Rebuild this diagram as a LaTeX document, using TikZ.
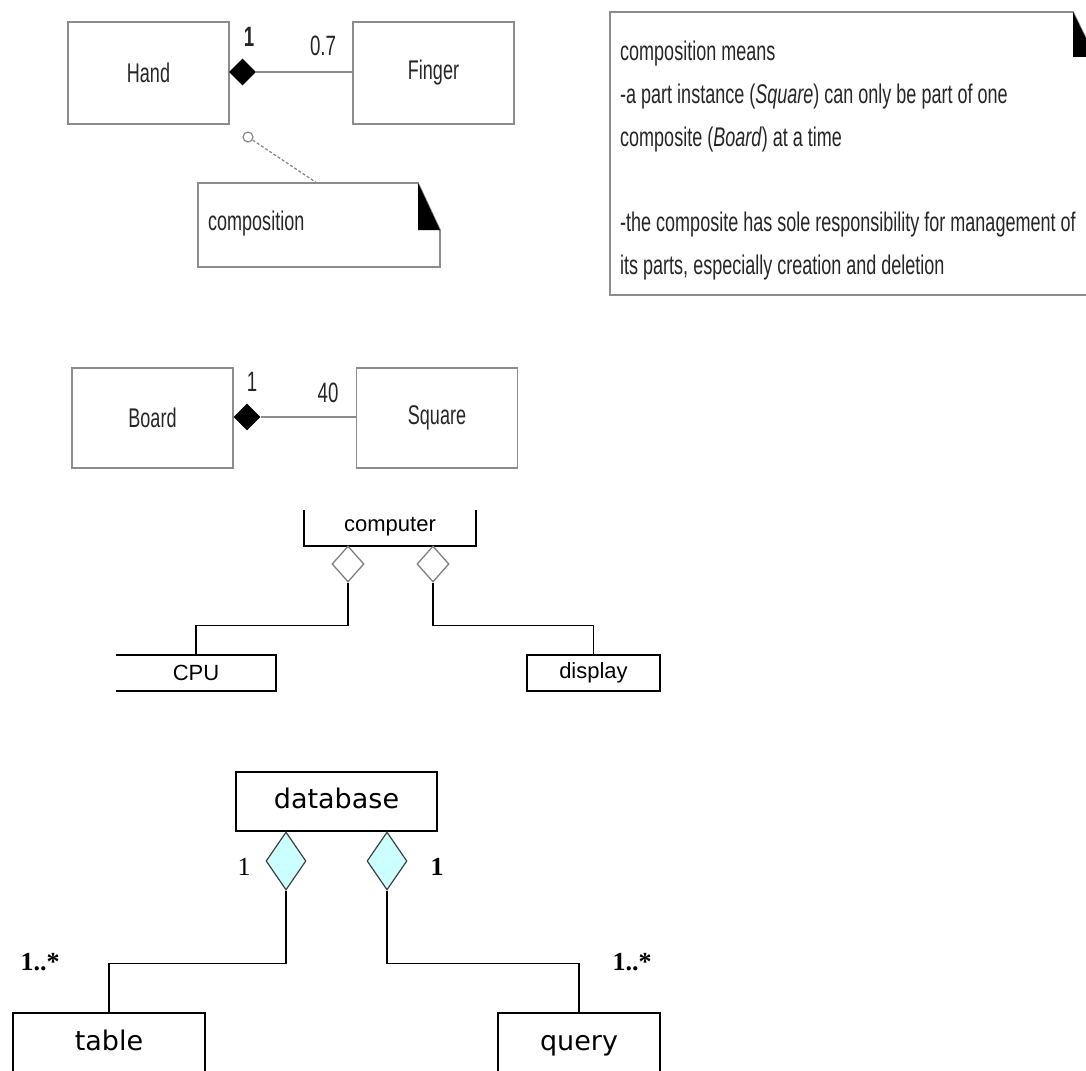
\documentclass[tikz,border=0pt]{standalone}
\usepackage{fontspec}
\setmainfont{Liberation Sans}
\newfontfamily\nar[FakeStretch=0.667]{Liberation Sans}
\newfontfamily\dvs{DejaVu Sans}
\newfontfamily\tms{Liberation Serif}
\usetikzlibrary{shapes.geometric,calc}
\definecolor{boxgray}{HTML}{8C8C8C}
\definecolor{txt}{HTML}{262626}
\definecolor{lcyan}{HTML}{CCFFFF}
\tikzset{
  umlbox/.style={draw=boxgray, line width=1.8pt, fill=white, minimum width=161pt, minimum height=102pt, inner sep=0pt, text=txt, font=\nar\fontsize{27}{30}\selectfont},
  compd/.style={diamond, fill=black, minimum width=27pt, minimum height=27pt, inner sep=0pt},
  toplabel/.style={text=txt, font=\nar\fontsize{28}{30}\selectfont, inner sep=0pt},
  notetext/.style={text=txt, font=\nar\fontsize{27}{30}\selectfont, inner sep=0pt, anchor=base west},
  pcbox/.style={minimum width=160pt, minimum height=36pt, inner sep=0pt, font=\fontsize{22}{24}\selectfont},
  odiam/.style={diamond, draw=gray, line width=1.3pt, fill=white, minimum width=32pt, minimum height=36pt, inner sep=0pt},
  pcline/.style={black, line width=1.5pt},
  dbbox/.style={draw=black, line width=1.5pt, inner sep=0pt, text height=20pt, text depth=6pt, font=\dvs\fontsize{27}{30}\selectfont},
  cdiam/.style={diamond, draw=black!75, line width=1.2pt, fill=lcyan, minimum width=40pt, minimum height=58pt, inner sep=0pt},
  dblabel/.style={inner sep=0pt, font=\tms\fontsize{26}{30}\selectfont}
}
\begin{document}
\begin{tikzpicture}[x=1pt,y=-1pt]
\useasboundingbox (0,0) rectangle (1086,1070);
\clip (0,0) rectangle (1086,1070);
\fill[white] (0,0) rectangle (1086,1070);

% ---- Hand / Finger ----
\node[umlbox] (hand) at (148.5,73) {Hand};
\node[umlbox] (finger) at (433.5,73) {Finger};
\node[compd] (hd) at (242.5,72) {};
\draw[boxgray, line width=2.6pt] (hd.east) -- (hd.east -| finger.west);
\node[toplabel, font=\nar\bfseries\fontsize{28}{30}\selectfont] (h1) at (249,37) {1};
\node[toplabel] (h07) at (323,46) {0.7};
\node[circle, draw=boxgray, line width=1.2pt, minimum width=8pt, minimum height=10pt, inner sep=0pt] (ci) at (248,137) {};
\coordinate (n1top) at (317,183);
\draw[boxgray, line width=1.3pt, dash pattern=on 3pt off 2pt] (ci) -- (n1top);

% small note
\draw[boxgray, line width=1.6pt, fill=white] (198,183) -- (418,183) -- (440,230) -- (440,267) -- (198,267) -- cycle;
\fill[black] (418,183) -- (418,230) -- (440,230) -- cycle;
\node[notetext, anchor=west] (n1) at (208,224) {composition};

% big note
\draw[boxgray, line width=1.6pt, fill=white] (610,12) -- (1073,12) -- (1095,57) -- (1095,295) -- (610,295) -- cycle;
\fill[black] (1073,12) -- (1073,57) -- (1095,57) -- cycle;
\node[notetext] (l1) at (620,61) {composition means};
\node[notetext] (l2) at (620,103.6) {-a part instance (\textit{Square}) can only be part of one};
\node[notetext] (l3) at (620,146.2) {composite (\textit{Board}) at a time};
\node[notetext] (l4) at (620,231.4) {-the composite has sole responsibility for management of};
\node[notetext] (l5) at (620,274) {its parts, especially creation and deletion};

% ---- Board / Square ----
\node[umlbox, minimum height=100pt] (board) at (152.5,418) {Board};
\node[umlbox, minimum height=100pt] (square) at (437,418) {Square};
\node[compd] (bd) at (247,417) {};
\draw[boxgray, line width=1.8pt] (bd.east) -- (bd.east -| square.west);
\node[toplabel] (b1) at (252,382) {1};
\node[toplabel] (b40) at (328,393) {40};

% ---- computer ----
\node[inner sep=0pt, font=\fontsize{22}{24}\selectfont] (comp) at (390,527) {computer};
\draw[pcline] (304,510) -- (304,546) -- (476,546) -- (476,510);
\node[odiam] (cd1) at (348,564) {};
\node[odiam] (cd2) at (433,564) {};
\node[pcbox] (cpu) at (196,673) {CPU};
\draw[pcline] (cpu.north west) -- (cpu.north east) -- (cpu.south east) -- (cpu.south west);
\node[pcbox, draw=black, line width=1.5pt, minimum width=133pt] (disp) at (593.5,673) {display};
\draw[pcline] (cd1.south) -- ++(0,43) -| (cpu.north);
\draw[pcline] (cd2.south) -- ++(0,43) -| (disp.north);

% ---- database ----
\node[dbbox, minimum width=201pt, minimum height=59pt] (db) at (336.5,801.5) {database};
\node[cdiam] (dd1) at (286,861) {};
\node[cdiam] (dd2) at (387,861) {};
\node[dbbox, minimum width=192pt, minimum height=60pt] (tbl) at (109,1043) {table};
\node[dbbox, minimum width=162pt, minimum height=60pt] (qry) at (579,1043) {query};
\draw[pcline] (dd1.south) -- ++(0,73) -| (tbl.north);
\draw[pcline] (dd2.south) -- ++(0,73) -| (qry.north);
\node[dblabel] (m1) at (244,867) {1};
\node[dblabel, font=\tms\bfseries\fontsize{26}{30}\selectfont] (m2) at (437,867) {1};
\node[dblabel, font=\tms\bfseries\fontsize{26}{30}\selectfont] (m3) at (40,962) {1..*};
\node[dblabel, font=\tms\bfseries\fontsize{26}{30}\selectfont] (m4) at (632,962) {1..*};
\end{tikzpicture}
\end{document}
